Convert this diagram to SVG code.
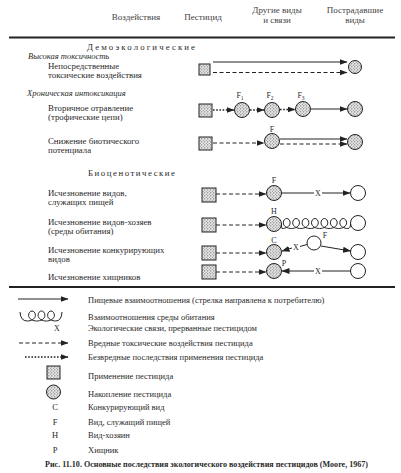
<svg xmlns="http://www.w3.org/2000/svg" xmlns:xlink="http://www.w3.org/1999/xlink" width="401" height="473" viewBox="0 0 401 473">
<style>
text{font-family:"Liberation Serif","DejaVu Serif",serif;fill:#2a2a2a;font-size:8.8px}
.hd{font-size:9px;fill:#444}
.it{font-style:italic;font-size:8.5px}
.lg{font-size:8.5px}
.sm{font-size:8px}
.ln{stroke:#222;stroke-width:1;fill:none}
.da{stroke-dasharray:4 2.5}
.dt{stroke-dasharray:1.6 1.6;stroke-width:1.4}
.sq{fill:url(#stip);stroke:#222;stroke-width:1}
.fc{fill:url(#stip);stroke:#222;stroke-width:1}
.ec{fill:#fff;stroke:#222;stroke-width:1}
.rule{stroke:#222;stroke-width:2}
.cap{font-weight:bold;font-size:8.5px}
</style>
<defs>
<pattern id="stip" width="3" height="3" patternUnits="userSpaceOnUse">
<rect width="3" height="3" fill="#e6e6e6"/>
<circle cx="0.8" cy="0.8" r="0.6" fill="#555"/>
<circle cx="2.3" cy="2.2" r="0.5" fill="#777"/>
</pattern>
<marker id="ah" viewBox="0 0 8 6" markerWidth="8" markerHeight="6" refX="7.5" refY="3" orient="auto" markerUnits="userSpaceOnUse">
<path d="M0,0 L8,3 L0,6 z" fill="#222"/>
</marker>
<path id="loop" d="M-4.71,4.5 C-1,4.5 3.4,2.5 3.4,-1.2 C3.4,-3.8 1.7,-5.5 0,-5.5 C-1.7,-5.5 -3.4,-3.8 -3.4,-1.2 C-3.4,2.5 1,4.5 4.71,4.5" fill="none" stroke="#222" stroke-width="1"/>
</defs>

<g id="header">
<text class="hd" x="136" y="20" text-anchor="middle">Воздействия</text>
<text class="hd" x="203" y="20" text-anchor="middle">Пестицид</text>
<text class="hd" x="277" y="13" text-anchor="middle">Другие виды</text>
<text class="hd" x="277" y="23" text-anchor="middle">и связи</text>
<text class="hd" x="355" y="13" text-anchor="middle">Пострадавшие</text>
<text class="hd" x="355" y="23" text-anchor="middle">виды</text>
<line class="rule" x1="9" y1="37.5" x2="395" y2="37.5"/>
</g>

<g id="labels">
<text x="87" y="50" textLength="108" lengthAdjust="spacing">Демоэкологические</text>
<text class="it" x="28" y="59">Высокая токсичность</text>
<text x="48" y="69">Непосредственные</text>
<text x="48" y="78">токсические воздействия</text>
<text class="it" x="27" y="96">Хроническая интоксикация</text>
<text x="48" y="111">Вторичное отравление</text>
<text x="48" y="120">(трофические цепи)</text>
<text x="48" y="144">Снижение биотического</text>
<text x="48" y="153">потенциала</text>
<text x="88" y="176" textLength="87" lengthAdjust="spacing">Биоценотические</text>
<text x="48" y="196">Исчезновение видов,</text>
<text x="48" y="205">служащих пищей</text>
<text x="48" y="225">Исчезновение видов-хозяев</text>
<text x="48" y="234">(среды обитания)</text>
<text x="48" y="253">Исчезновение конкурирующих</text>
<text x="48" y="262">видов</text>
<text x="48" y="280">Исчезновение хищников</text>
</g>

<g id="row1">
<rect class="sq" x="199" y="64" width="11" height="11"/>
<circle class="fc" cx="355" cy="67" r="6.5"/>
</g>
<g id="row2">
<rect class="sq" x="199" y="104" width="13" height="13"/>
<circle class="fc" cx="242" cy="110" r="7.5"/>
<circle class="fc" cx="272" cy="110" r="7.5"/>
<circle class="fc" cx="303" cy="109" r="7.5"/>
<circle class="fc" cx="355" cy="109" r="7.5"/>
<text class="sm" x="240" y="98" text-anchor="middle">F<tspan font-size="5.5" dy="1.5">1</tspan></text>
<text class="sm" x="270" y="98" text-anchor="middle">F<tspan font-size="5.5" dy="1.5">2</tspan></text>
<text class="sm" x="301" y="98" text-anchor="middle">F<tspan font-size="5.5" dy="1.5">3</tspan></text>
</g>
<g id="row3">
<rect class="sq" x="199" y="137" width="13" height="13"/>
<circle class="fc" cx="272" cy="141" r="7.5"/>
<circle class="fc" cx="355" cy="142" r="7.5"/>
<text class="sm" x="272" y="132" text-anchor="middle">F</text>
</g>
<g id="rowF">
<rect class="sq" x="202" y="188" width="14" height="14"/>
<circle class="fc" cx="274" cy="193" r="7.5"/>
<circle class="ec" cx="358" cy="193" r="7.5"/>
<text class="sm" x="274" y="183" text-anchor="middle">F</text>
<text class="sm" x="318" y="196" text-anchor="middle">X</text>
</g>
<g id="rowH">
<rect class="sq" x="202" y="218" width="14" height="14"/>
<circle class="fc" cx="274" cy="224" r="7.5"/>
<circle class="ec" cx="358" cy="223" r="7.5"/>
<text class="sm" x="274" y="214" text-anchor="middle">H</text>
</g>
<g id="rowC">
<rect class="sq" x="202" y="246" width="14" height="14"/>
<circle class="fc" cx="274" cy="252" r="7.5"/>
<circle class="ec" cx="314" cy="243" r="7"/>
<circle class="ec" cx="358" cy="252" r="7.5"/>
<text class="sm" x="274" y="243" text-anchor="middle">C</text>
<text class="sm" x="296" y="250" text-anchor="middle">X</text>
<text class="sm" x="325" y="238" text-anchor="middle">F</text>
</g>
<g id="rowP">
<rect class="sq" x="202" y="265" width="14" height="14"/>
<circle class="fc" cx="274" cy="271" r="7.5"/>
<circle class="ec" cx="358" cy="271" r="7.5"/>
<text class="sm" x="284" y="266" text-anchor="middle">P</text>
<text class="sm" x="318" y="274" text-anchor="middle">X</text>
</g>

<g id="connectors">
<line class="ln" x1="213" y1="62" x2="347" y2="62" marker-end="url(#ah)"/>
<line class="ln da" x1="213" y1="72.5" x2="347" y2="72.5" marker-end="url(#ah)"/>
<line class="ln dt" x1="213" y1="110" x2="234" y2="110" marker-end="url(#ah)"/>
<line class="ln dt" x1="250" y1="110" x2="264" y2="110" marker-end="url(#ah)"/>
<line class="ln dt" x1="280" y1="109.5" x2="295" y2="109.5" marker-end="url(#ah)"/>
<line class="ln" x1="311" y1="109" x2="347" y2="109" marker-end="url(#ah)"/>
<line class="ln da" x1="213" y1="143" x2="264" y2="143" marker-end="url(#ah)"/>
<line class="ln" x1="280" y1="139" x2="347" y2="139" marker-end="url(#ah)"/>
<line class="ln da" x1="280" y1="144" x2="347" y2="144" marker-end="url(#ah)"/>
<line class="ln da" x1="216" y1="194" x2="266" y2="194" marker-end="url(#ah)"/>
<line class="ln" x1="281.5" y1="193" x2="314" y2="193"/>
<line class="ln" x1="322" y1="193" x2="350" y2="193" marker-end="url(#ah)"/>
<line class="ln da" x1="216" y1="225" x2="266" y2="225" marker-end="url(#ah)"/>
<g id="coil">
<use xlink:href="#loop" x="286.7" y="224"/>
<use xlink:href="#loop" x="296.1" y="224"/>
<use xlink:href="#loop" x="305.5" y="224"/>
<use xlink:href="#loop" x="314.9" y="224"/>
<use xlink:href="#loop" x="324.4" y="224"/>
<use xlink:href="#loop" x="333.8" y="224"/>
<use xlink:href="#loop" x="343.2" y="224"/>
<path class="ln" d="M281.5,224 Q281.5,228.5 282,228.5"/>
<path class="ln" d="M347.9,228.5 Q350.5,228.5 350.5,224"/>
</g>
<line class="ln da" x1="216" y1="253" x2="266" y2="253" marker-end="url(#ah)"/>
<line class="ln" x1="292" y1="248" x2="282" y2="251" marker-end="url(#ah)"/>
<line class="ln" x1="307" y1="244.5" x2="300" y2="246.5"/>
<line class="ln" x1="321" y1="246" x2="350.5" y2="251" marker-end="url(#ah)"/>
<line class="ln da" x1="216" y1="272" x2="266" y2="272" marker-end="url(#ah)"/>
<line class="ln" x1="350.5" y1="271" x2="322" y2="271"/>
<line class="ln" x1="314" y1="271" x2="282" y2="271" marker-end="url(#ah)"/>
</g>

<line class="rule" x1="9" y1="287" x2="395" y2="287"/>

<g id="legend">
<line class="ln" x1="18" y1="299" x2="68" y2="299" marker-end="url(#ah)"/>
<text class="lg" x="88" y="303">Пищевые взаимоотношения (стрелка направлена к потребителю)</text>
<g>
<use xlink:href="#loop" x="32" y="316.5"/>
<use xlink:href="#loop" x="41.5" y="316.5"/>
<use xlink:href="#loop" x="51" y="316.5"/>
<path class="ln" d="M20,312 Q20.5,321 27.3,321"/>
<path class="ln" d="M55.7,321 Q61.5,321 62,312"/>
</g>
<text class="lg" x="88" y="320">Взаимоотношения среды обитания</text>
<text class="sm" x="57" y="331" text-anchor="middle">X</text>
<text class="lg" x="88" y="331">Экологические связи, прерванные пестицидом</text>
<line class="ln da" x1="19" y1="343" x2="68" y2="343" marker-end="url(#ah)"/>
<text class="lg" x="88" y="346">Вредные токсические воздействия пестицида</text>
<line class="ln dt" x1="25" y1="357" x2="68" y2="357" marker-end="url(#ah)"/>
<text class="lg" x="88" y="360">Безвредные последствия применения пестицида</text>
<rect class="sq" x="47" y="366" width="13" height="13"/>
<text class="lg" x="88" y="379">Применение пестицида</text>
<circle class="fc" cx="53.5" cy="392" r="7"/>
<text class="lg" x="88" y="397">Накопление пестицида</text>
<text class="lg" x="55" y="410" text-anchor="middle">C</text>
<text class="lg" x="88" y="410">Конкурирующий вид</text>
<text class="lg" x="55" y="425" text-anchor="middle">F</text>
<text class="lg" x="88" y="425">Вид, служащий пищей</text>
<text class="lg" x="55" y="438" text-anchor="middle">H</text>
<text class="lg" x="88" y="438">Вид-хозяин</text>
<text class="lg" x="55" y="453" text-anchor="middle">P</text>
<text class="lg" x="88" y="453">Хищник</text>
</g>
<text class="cap" x="45" y="467" textLength="323" lengthAdjust="spacingAndGlyphs">Рис. 11.10. Основные последствия экологического воздействия пестицидов (Moore, 1967)</text>
</svg>
